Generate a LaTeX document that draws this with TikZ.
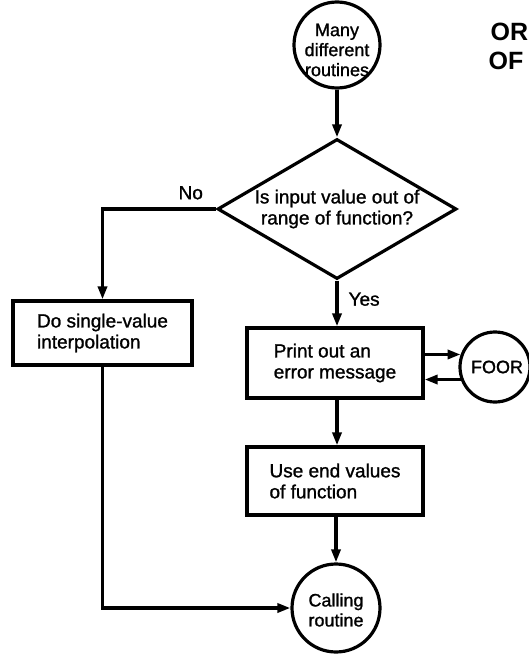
\documentclass[tikz,border=0pt]{standalone}
\usepackage{fontspec}
\setmainfont{Liberation Sans}
\newfontfamily\heavyface{Liberation Sans}[FakeBold=1.2]
\usetikzlibrary{arrows.meta,shapes.geometric}
\begin{document}
\begin{tikzpicture}[x=1pt,y=-1pt,
  line width=3.2pt,
  flow/.style={-{Triangle[length=13pt,width=9pt]}},
  bodytext/.style={font=\heavyface\fontsize{19}{21}\selectfont},
  procbox/.style={draw, rectangle, align=left, inner sep=0pt, bodytext},
  termcirc/.style={draw, circle, inner sep=0pt},
  circtext/.style={align=center, inner sep=0pt, font=\heavyface\fontsize{18}{20}\selectfont},
  decision/.style={draw, diamond, shape aspect=1.7, inner sep=0pt, align=center, bodytext},
  heading/.style={anchor=base west, inner sep=0pt, font=\fontsize{25}{28}\selectfont\bfseries}
]
\useasboundingbox (0,0) rectangle (528,658);

% heading fragments at the top right
\node[heading] (hdA) at (489,41) {OR};
\node[heading] (hdB) at (487,70) {OF};

% entry point
\node[termcirc, minimum size=86pt] (many) at (337,45) {};
\node[circtext] (manyt) at (337,50) {Many\\different\\routines};

% range test
\node[decision, minimum width=239pt, minimum height=140pt] (query) at (337,209)
  {Is input value out of\\range of function?};

% left branch
\node[procbox, minimum width=179pt, minimum height=64pt] (interp) at (102.5,333)
  {Do single-value\\interpolation};

% right branch
\node[procbox, minimum width=176pt, minimum height=70pt] (print) at (335,363)
  {Print out an\\error message};
\node[procbox, minimum width=176pt, minimum height=68pt] (use) at (335,481)
  {Use end values\\of function};

% error routine
\node[termcirc, minimum size=70pt] (foor) at (495,367) {};
\node[circtext] (foort) at (497,367) {FOOR};

% exit
\node[termcirc, minimum size=88pt] (calling) at (336,608) {};
\node[circtext] (callingt) at (336,610) {Calling\\routine};

% connectors
\draw[flow] (many.south) -- (query.north);
\draw[flow] (query.west) -| (interp.north);
\node[bodytext, anchor=south west, inner sep=0pt] (nolbl) at (177,201) {No};
\draw[flow] (query.south) -- (query.south |- print.north);
\node[bodytext, anchor=north west, inner sep=0pt] (yeslbl) at (347,291) {Yes};
\draw[flow] (print.south -| query.south) -- (use.north -| query.south);
\draw[flow] (use.south -| calling.north) -- (calling.north);
\draw[flow] (interp.south) |- (calling.west);
\draw[flow] (print.east |- foor.160) -- (foor.160);
\draw[flow] (foor.200) -- (print.east |- foor.200);
\end{tikzpicture}
\end{document}
